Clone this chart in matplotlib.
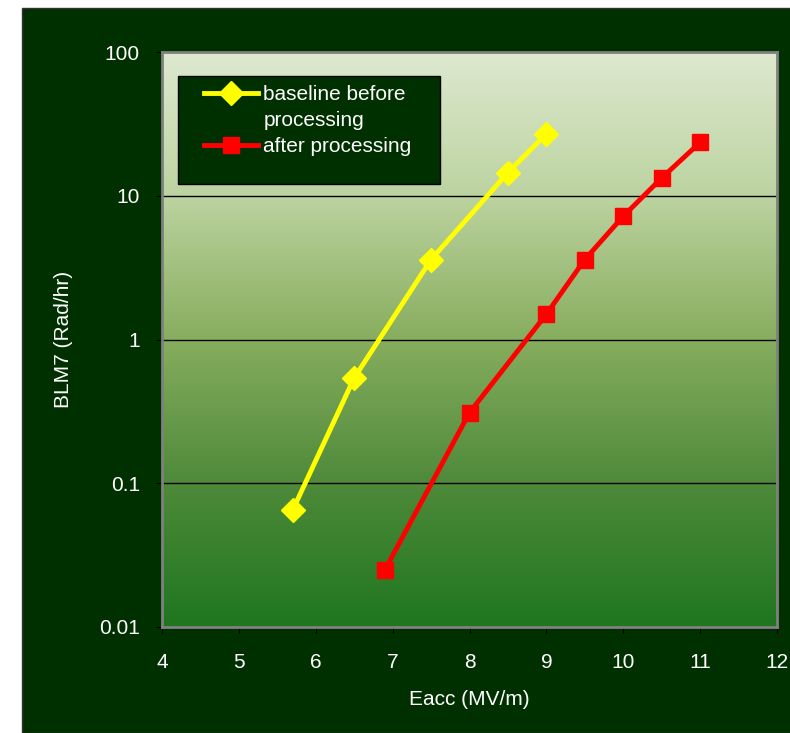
import numpy as np
import matplotlib
matplotlib.use("Agg")
import matplotlib.pyplot as plt
from matplotlib.colors import LinearSegmentedColormap
from matplotlib.patches import Rectangle
from matplotlib.lines import Line2D

plt.rcParams['font.family'] = ['Liberation Sans', 'DejaVu Sans']

# datos
eacc_antes = [5.7, 6.5, 7.5, 8.5, 9.0]
blm_antes = [0.065, 0.54, 3.6, 14.5, 27.0]
eacc_despues = [6.9, 8.0, 9.0, 9.5, 10.0, 10.5, 11.0]
blm_despues = [0.025, 0.31, 1.5, 3.6, 7.2, 13.3, 23.5]
x_ticks = [4, 5, 6, 7, 8, 9, 10, 11, 12]
y_ticks = [0.01, 0.1, 1, 10, 100]
y_labels = ['0.01', '0.1', '1', '10', '100']

fondo = '#003000'
fig = plt.figure(figsize=(7.9, 7.33), dpi=100)
fig.patch.set_facecolor('white')
fig.patches.append(Rectangle((22 / 790, 0), 1, 1 - 8 / 733, transform=fig.transFigure,
                             facecolor=fondo, edgecolor='#333333', lw=1, zorder=-1))

ax = fig.add_axes([162 / 790, 1 - 627 / 733, 615 / 790, 575 / 733])
ax.set_yscale('log')
ax.set_xlim(4, 12)
ax.set_ylim(0.01, 100)

# degradado del area del grafico
cmap = LinearSegmentedColormap.from_list('verde', ['#dde9cf', '#bcd3a0', '#87ad5e', '#4e8a3a', '#1f761f'])
grad = np.linspace(0, 1, 256).reshape(-1, 1)
ax.imshow(grad, cmap=cmap, aspect='auto', extent=[0, 1, 0, 1], transform=ax.transAxes, zorder=0)

for y in [0.1, 1, 10]:
    ax.axhline(y, color='black', lw=1, zorder=1)

l1, = ax.plot(eacc_antes, blm_antes, color='#ffff00', lw=3.5, marker='D', ms=12, zorder=3)
l2, = ax.plot(eacc_despues, blm_despues, color='#ff0000', lw=3.5, marker='s', ms=11, zorder=3)

ax.set_xticks(x_ticks)
ax.set_xticklabels([str(t) for t in x_ticks])
ax.set_yticks(y_ticks)
ax.set_yticklabels(y_labels)
ax.yaxis.set_minor_locator(matplotlib.ticker.NullLocator())
ax.tick_params(colors='black', labelcolor='white', labelsize=15, direction='out', length=4)
ax.tick_params(axis='y', pad=12)
ax.tick_params(axis='x', pad=15)

for s in ax.spines.values():
    s.set_color('#808080')
    s.set_linewidth(2)

ax.set_xlabel('Eacc (MV/m)', color='white', fontsize=15, labelpad=13)
ax.set_ylabel('BLM7 (Rad/hr)', color='white', fontsize=15, labelpad=19)

# caja de la leyenda
ax.add_patch(Rectangle((16 / 615, 1 - 132 / 575), 262 / 615, 108 / 575, transform=ax.transAxes,
                       facecolor=fondo, edgecolor='black', lw=1, zorder=4))
vacio = Line2D([], [], color='none')
leg = ax.legend([l1, vacio, l2], ['baseline before', 'processing', 'after processing'],
                loc='upper left', bbox_to_anchor=(42 / 615, 1 - 33 / 575), frameon=False,
                fontsize=15, labelcolor='white', handlelength=2.6, borderpad=0,
                labelspacing=0.34, handletextpad=0.25, borderaxespad=0)
leg.set_zorder(5)

fig.savefig('out.png', dpi=100, facecolor=fig.get_facecolor())
